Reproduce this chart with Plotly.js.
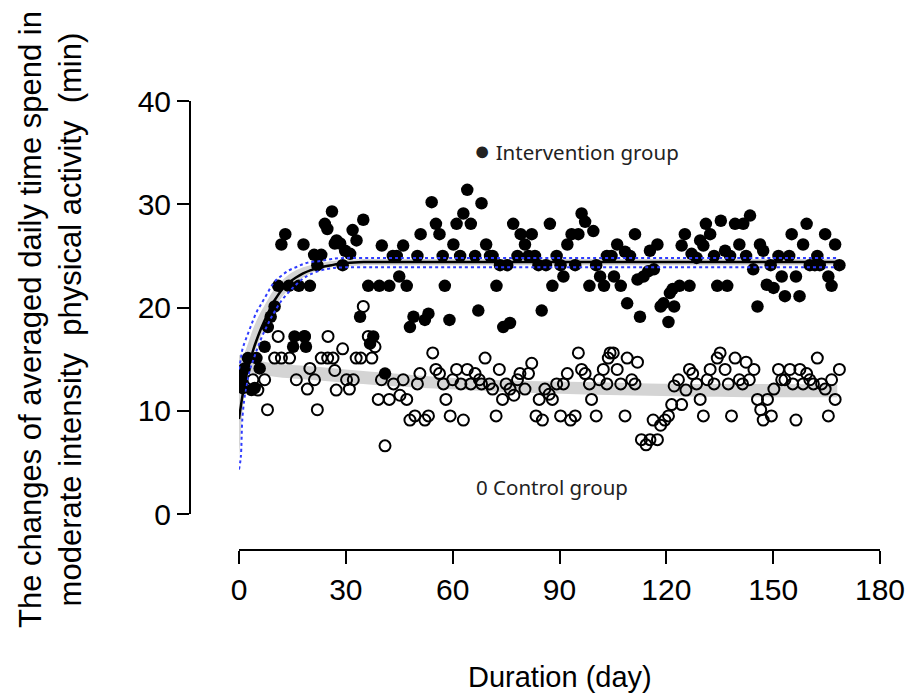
<!DOCTYPE html>
<html>
<head>
<meta charset="utf-8">
<script src="https://cdn.plot.ly/plotly-3.0.1.min.js"></script>
<style>html,body{margin:0;padding:0;background:#fff;}#chart{width:910px;height:695px;}</style>
</head>
<body>
<div id="chart"></div>
<script>
// Intervention group (filled circles)
const intDays = [0.3,0.6,1.1,1.6,2.5,3.5,4.4,4.9,5.8,7.2,8.1,8.9,10.0,11.0,11.9,13.0,14.0,15.2,15.6,16.8,18.1,18.4,18.8,19.9,21.1,22.0,23.1,24.1,24.8,26.1,26.9,27.4,28.4,29.1,29.8,31.2,31.9,33.0,34.0,34.9,36.3,36.8,37.7,39.4,40.1,41.0,42.2,43.2,44.3,45.0,46.1,47.1,48.0,49.0,50.1,51.0,52.2,53.2,54.1,55.3,56.3,57.2,57.8,59.1,60.2,61.1,62.1,63.0,64.1,65.1,66.3,67.2,68.1,69.4,70.5,71.2,72.3,73.3,74.2,75.3,76.1,77.0,78.2,79.1,80.3,81.3,82.2,83.1,84.1,85.0,86.2,87.3,88.0,89.2,90.3,91.1,92.2,93.4,94.4,95.3,96.2,97.2,98.4,99.5,100.3,101.4,102.5,103.3,104.6,105.3,106.2,107.2,108.4,109.0,109.8,111.2,111.9,112.6,113.6,114.9,115.4,116.5,117.5,118.4,119.2,120.6,121.0,121.8,122.2,123.7,124.3,125.2,126.5,127.1,128.5,129.5,130.4,131.1,132.3,133.4,134.3,135.3,136.5,137.1,137.9,139.3,140.5,141.6,142.4,143.5,144.4,145.6,146.3,147.2,148.2,149.3,150.1,151.5,152.4,153.3,154.5,155.2,156.4,157.4,158.4,159.4,160.3,161.7,162.4,163.1,164.6,165.5,166.4,167.4,168.6];
const intVals = [12.8,13.5,12.2,14.1,15.1,12.0,12.2,15.1,14.1,16.2,18.1,19.1,20.1,22.1,26.1,27.1,22.1,16.2,17.2,22.1,26.1,17.2,16.2,22.1,25.1,24.1,25.1,28.1,27.6,29.3,26.2,26.5,26.2,24.1,25.5,25.2,27.5,26.5,19.1,28.5,22.1,16.5,17.2,22.1,26.0,13.6,22.1,25.0,25.0,23.0,26.0,22.1,18.1,19.1,25.0,27.1,18.8,19.4,30.2,28.1,27.1,25.0,22.1,18.8,26.1,28.1,25.0,29.1,31.4,28.1,25.0,19.7,30.1,26.1,25.0,25.0,22.1,24.1,18.1,24.1,18.5,28.1,25.0,27.1,26.1,25.0,27.1,25.0,24.1,19.7,24.1,28.1,22.1,25.0,24.1,23.0,26.1,27.1,24.1,27.1,29.1,28.3,22.1,27.4,24.1,23.0,22.1,25.0,25.0,23.0,26.1,22.1,25.4,20.4,25.0,27.1,22.7,19.1,23.0,23.5,25.5,23.7,26.1,20.1,20.4,18.6,21.4,21.8,20.1,22.1,26.0,27.1,22.1,25.2,24.8,26.5,26.0,28.1,27.1,25.0,22.1,28.4,25.5,22.1,25.0,28.1,26.1,28.1,25.0,28.9,23.7,20.1,26.1,25.5,22.2,24.1,21.9,25.0,23.0,21.1,25.0,27.1,23.0,21.1,26.1,28.1,24.1,24.1,25.0,24.1,27.1,23.0,22.1,26.1,24.1];

// Control group (open circles)
const ctlDays = [0.7,3.9,5.3,7.2,8.0,10.0,11.0,11.9,14.2,16.1,18.4,19.2,19.9,21.2,22.0,23.1,25.0,24.9,26.4,26.9,27.3,29.1,30.2,31.0,32.1,32.9,34.2,34.9,36.3,37.3,38.2,39.1,40.0,41.0,42.2,43.4,45.2,46.1,47.1,48.0,49.4,50.1,50.8,52.2,53.2,54.4,55.3,56.3,57.4,58.1,59.3,60.0,61.1,62.3,63.0,64.1,65.1,66.3,67.5,68.1,69.1,70.3,71.2,72.2,73.1,74.0,75.0,76.1,77.2,78.2,78.9,80.3,81.3,82.2,83.4,84.3,85.2,85.9,87.1,88.0,89.2,90.3,91.1,92.2,93.1,94.4,95.3,96.2,97.2,98.4,99.0,100.3,101.2,102.3,103.3,103.7,104.2,105.1,106.2,107.2,108.4,109.0,110.3,111.2,111.9,113.0,114.3,115.4,116.3,117.5,118.4,119.6,120.6,121.5,122.2,123.4,124.3,125.5,126.5,127.4,128.5,129.5,130.4,131.5,132.3,133.4,134.3,135.1,136.5,137.4,138.3,139.3,140.5,141.4,142.4,143.3,144.6,145.6,146.5,147.2,148.4,149.5,150.2,151.5,152.4,153.3,154.7,155.5,156.4,157.5,158.4,159.4,160.3,161.3,162.4,163.6,164.6,165.5,166.4,167.4,168.6];
const ctlVals = [13.0,13.0,12.0,13.0,10.1,15.1,17.2,15.1,15.1,13.0,17.2,12.1,14.1,13.0,10.1,15.1,17.2,15.1,15.1,13.9,12.0,16.0,13.0,12.1,13.0,15.1,15.1,20.1,17.2,15.1,16.2,11.1,13.0,6.6,11.1,12.6,11.5,13.0,11.1,9.1,9.5,12.6,13.6,9.1,9.5,15.6,14.0,13.6,12.6,11.1,9.5,13.0,14.0,12.6,9.1,14.0,12.6,13.6,13.0,12.6,15.1,12.6,12.1,9.5,14.0,11.1,12.6,12.1,11.5,13.0,13.6,12.1,13.6,14.6,9.5,11.1,9.1,12.1,11.6,11.1,12.6,9.5,12.6,13.6,9.1,9.5,15.6,14.0,13.6,12.6,11.1,9.5,13.0,14.0,12.6,15.1,15.6,15.6,14.0,12.6,9.5,15.1,13.0,12.6,14.7,7.2,6.7,7.2,9.1,7.2,8.6,9.1,9.5,10.6,12.4,13.0,10.6,12.0,14.0,13.6,12.6,11.1,9.5,13.0,14.0,12.6,15.1,15.6,14.0,12.6,9.5,15.1,13.0,12.6,14.7,13.0,14.0,11.1,10.1,9.1,11.1,9.5,12.1,14.0,13.0,13.0,14.0,12.6,9.1,14.0,12.6,13.6,13.0,12.6,15.1,12.6,12.1,9.5,13.0,11.1,14.0];

// Intervention fitted curve with bands
const fitDays  = [0,0.5,1,2,3,4,5,6,7,8,9,10,12,14,16,18,20,23,26,30,35,40,60,90,120,150,168];
const fitMean  = [9.2,10.4,11.5,13.3,14.7,15.9,16.9,17.8,18.6,19.3,20.1,20.7,21.7,22.4,22.9,23.3,23.6,23.9,24.1,24.3,24.4,24.4,24.4,24.4,24.4,24.4,24.4];
const ciUpper  = [13.0,14.0,15.0,16.0,17.0,18.0,18.8,19.5,20.1,20.7,21.3,21.8,22.6,23.2,23.6,23.9,24.1,24.3,24.5,24.6,24.7,24.7,24.7,24.7,24.7,24.7,24.7];
const ciLower  = [5.5,7.8,10.0,12.7,14.2,15.3,16.3,17.1,17.9,18.6,19.3,19.9,21.0,21.8,22.4,22.9,23.3,23.7,23.9,24.0,24.1,24.1,24.1,24.1,24.1,24.1,24.1];
const piUpper  = [14.0,15.0,16.0,17.0,17.9,18.8,19.6,20.2,20.8,21.4,22.0,22.5,23.1,23.6,23.9,24.2,24.4,24.5,24.7,24.8,24.8,24.8,24.8,24.8,24.8,24.8,24.8];
const piLower  = [4.3,5.5,9.5,12.3,13.9,14.9,15.9,16.8,17.6,18.3,19.0,19.6,20.7,21.5,22.2,22.8,23.2,23.6,23.8,23.9,23.9,23.9,23.9,23.9,23.9,23.9,23.9];

// Control fitted band
const ctlFitDays = [0,5,10,20,30,40,55,70,85,100,115,130,150,168];
const ctlUpper   = [15.4,14.9,14.6,14.3,14.0,13.7,13.3,13.0,12.85,12.75,12.65,12.6,12.6,12.55];
const ctlLower   = [13.9,13.6,13.3,13.0,12.7,12.45,12.15,11.9,11.7,11.55,11.45,11.35,11.3,11.3];

// Axis ticks
const xTicks = [0,30,60,90,120,150,180];
const yTicks = [0,10,20,30,40];

const band = '#d4d4d4';
const traces = [
  {x: ctlFitDays, y: ctlLower, mode:'lines', line:{width:0, color:band, shape:'spline'}, hoverinfo:'skip'},
  {x: ctlFitDays, y: ctlUpper, mode:'lines', line:{width:0, color:band, shape:'spline'}, fill:'tonexty', fillcolor:band, hoverinfo:'skip'},
  {x: fitDays, y: ciLower, mode:'lines', line:{width:0, color:band, shape:'spline'}, hoverinfo:'skip'},
  {x: fitDays, y: ciUpper, mode:'lines', line:{width:0, color:band, shape:'spline'}, fill:'tonexty', fillcolor:band, hoverinfo:'skip'},
  {x: ctlDays, y: ctlVals, mode:'markers', name:'Control group',
   marker:{symbol:'circle-open', size:11, color:'#000', line:{width:2, color:'#000'}}},
  {x: intDays, y: intVals, mode:'markers', name:'Intervention group',
   marker:{symbol:'circle', size:12.5, color:'#000'}},
  {x: fitDays, y: piUpper, mode:'lines', line:{width:2, color:'#2f3cff', dash:'dot', shape:'spline'}},
  {x: fitDays, y: piLower, mode:'lines', line:{width:2, color:'#2f3cff', dash:'dot', shape:'spline'}},
  {x: fitDays, y: fitMean, mode:'lines', line:{width:2.5, color:'#000', shape:'spline'}}
];

// plot area: px x 190..880, y 101..550
const L = 190, R = 880, T = 101, B = 550;
const W = R - L, H = B - T;
const px = v => (v - L) / W;
const py = v => (B - v) / H;

const tickFont = {family:'Liberation Sans, Arial, sans-serif', size:30, color:'#000'};
const layout = {
  width:910, height:695,
  margin:{l:L, r:910-R, t:T, b:695-B, pad:0},
  paper_bgcolor:'#fff', plot_bgcolor:'rgba(0,0,0,0)',
  showlegend:false,
  xaxis:{range:[0,180], domain:[px(239),1], anchor:'free', position:0,
    tickvals:xTicks, ticktext:xTicks.map(String), ticks:'outside', ticklen:13, tickwidth:2,
    tickcolor:'#000', showline:true, linewidth:2, linecolor:'#000', showgrid:false, zeroline:false,
    tickfont:tickFont},
  yaxis:{range:[0,40], domain:[py(514),1], anchor:'free', position:0,
    tickvals:yTicks, ticktext:yTicks.map(String), ticks:'outside', ticklen:12, tickwidth:2,
    tickcolor:'#000', showline:true, linewidth:2, linecolor:'#000', showgrid:false, zeroline:false,
    tickfont:tickFont},
  annotations:[
    {xref:'paper', yref:'paper', x:px(560), y:py(677), text:'Duration (day)', showarrow:false,
     xanchor:'center', yanchor:'middle', font:{family:'Liberation Sans, Arial, sans-serif', size:29, color:'#000'}},
    {xref:'paper', yref:'paper', x:px(50), y:py(320), textangle:-90, showarrow:false,
     text:'The changes of averaged daily time spend in<br>moderate intensity  physical activity  (min)',
     xanchor:'center', yanchor:'middle', align:'center',
     font:{family:'Liberation Sans, Arial, sans-serif', size:31, color:'#000'}},
    {xref:'paper', yref:'paper', x:px(472), y:py(150), text:'<span style="font-size:27px">●</span> Intervention group', showarrow:false,
     xanchor:'left', yanchor:'middle', font:{family:'Noto Sans, sans-serif', size:20.5, color:'#222'}},
    {xref:'paper', yref:'paper', x:px(474), y:py(487), text:'0 Control group', showarrow:false,
     xanchor:'left', yanchor:'middle', font:{family:'Noto Sans, sans-serif', size:20.5, color:'#222'}}
  ]
};

Plotly.newPlot('chart', traces, layout, {staticPlot:true, displayModeBar:false});
</script>
</body>
</html>
